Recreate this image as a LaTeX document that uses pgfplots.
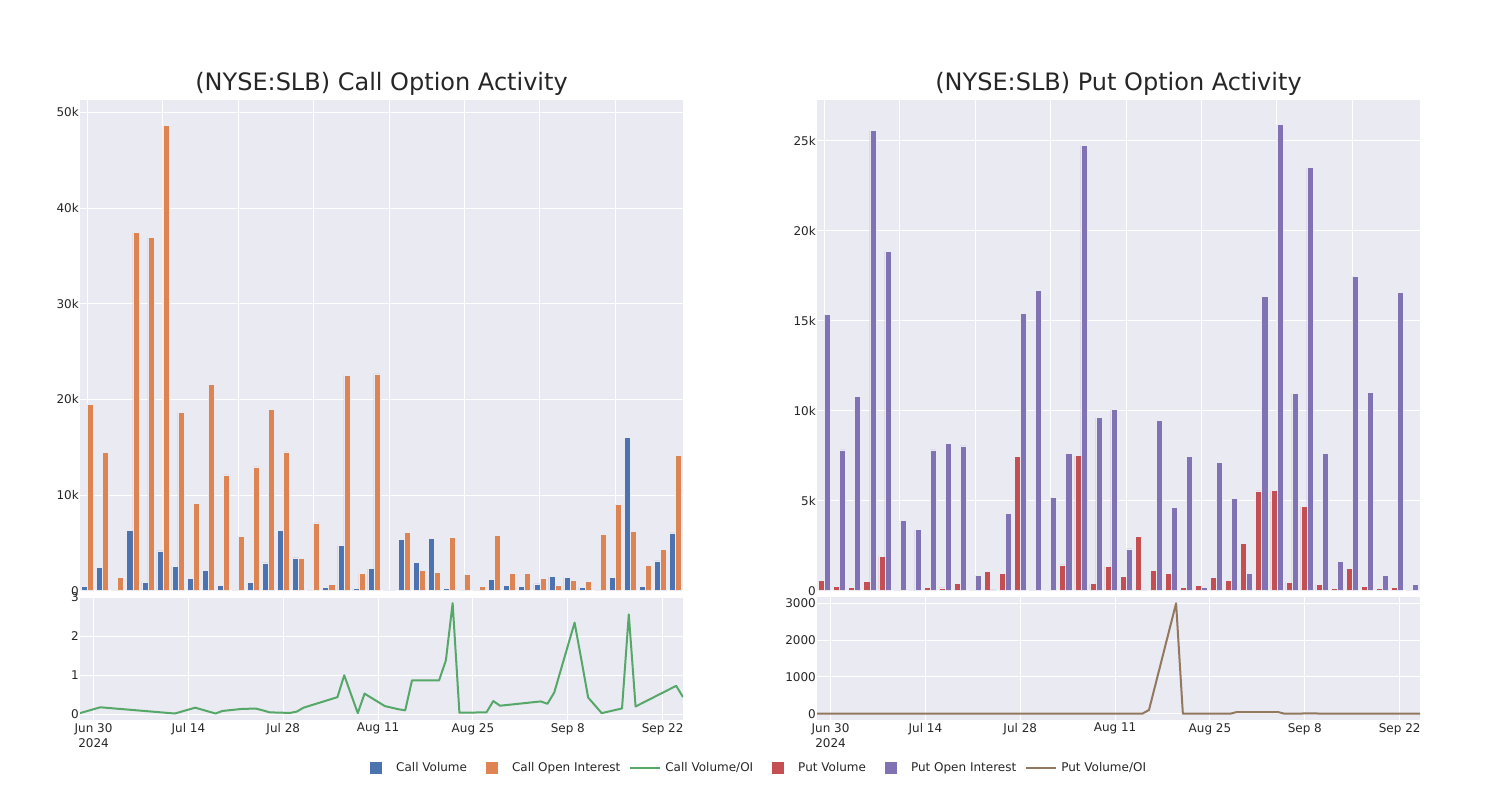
\documentclass[border=0pt]{standalone}
\usepackage{fontspec}
\setmainfont{DejaVu Sans}
\usepackage{pgfplots}
\usepackage{pgfplotstable}
\pgfplotsset{compat=1.18}
\definecolor{bg}{HTML}{EAEAF2}
\definecolor{cvol}{HTML}{4C72B0}
\definecolor{coi}{HTML}{DD8452}
\definecolor{crat}{HTML}{55A868}
\definecolor{pvol}{HTML}{C44E52}
\definecolor{poi}{HTML}{8172B3}
\definecolor{prat}{HTML}{937860}
\definecolor{txt}{HTML}{262626}

\pgfplotstableread{
i d cv coi cr pv poi pr
0 -2 420 19480 0.03 590 15330 0.04
1 1 2470 14430 0.18 260 7820 0.03
2 12 30 1360 0.02 170 10780 0.02
3 15 6300 37460 0.17 500 25560 0.02
4 18 870 36970 0.02 1890 18870 0.1
5 19 4170 48630 0.085 20 3910 0.01
6 22 2540 18680 0.14 70 3390 0.02
7 24 1290 9150 0.145 190 7820 0.02
8 25 2160 21570 0.1 150 8200 0.02
9 26 590 12100 0.05 390 8040 0.05
10 29 140 5700 0.035 30 870 0.03
11 30 900 12940 0.07 1070 40 0.03
12 31 2920 18960 0.17 980 4300 0.2
13 36 6300 14500 0.44 7480 15410 0.5
14 37 3440 3370 1.0 70 16670 0
15 39 100 7100 0.03 90 5190 0.02
16 40 310 630 0.53 1430 7610 0.2
17 43 4700 22540 0.21 7500 24740 0.3
18 45 210 1810 0.13 390 9610 0.04
19 46 2300 22680 0.1 1370 10090 0.1
20 47 45 52 0.87 780 2320 100
21 51 5360 6120 0.87 3000 10 3000
22 52 2960 2120 1.38 1110 9460 0.1
23 53 5460 1880 2.85 960 4630 0.2
24 54 210 5570 0.04 190 7460 0.03
25 58 70 1670 0.05 280 190 1.5
26 59 140 450 0.34 740 7110 0.1
27 60 1220 5810 0.22 590 5110 46
28 66 560 1840 0.33 2630 960 46
29 67 450 1840 0.27 5540 16350 0.3
30 68 700 1290 0.56 5560 25890 0.2
31 71 1460 590 2.35 460 10960 10
32 72 1390 1080 1.4 4670 23500 5
33 73 380 1010 0.43 370 7630 0.05
34 75 170 5880 0.03 110 1630 0.07
35 78 1360 9040 0.15 1240 17480 0.07
36 79 16040 6230 2.56 240 11000 0.02
37 80 490 2610 0.2 110 870 0.13
38 86 3130 4350 0.73 170 16570 0.01
39 87 6050 14160 0.44 90 370 0.2
}\data

\pgfplotsset{
  base/.style={
    scale only axis,
    axis background/.style={fill=bg},
    axis line style={draw=none},
    major tick length=0pt,
    grid=major,
    major grid style={white, line width=1pt},
    ticklabel style={font=\fontsize{12}{15}\selectfont, text=txt},
    /pgf/number format/assume math mode=true,
    yticklabel style={inner sep=1pt},
    scaled y ticks=false,
  },
  datex/.style={
    xmin=-2, xmax=87,
    xtick={0,14,28,42,56,70,84},
    xticklabels={{Jun 30\\2024},{Jul 14},{Jul 28},{Aug 11},{Aug 25},{Sep 8},{Sep 22}},
    xticklabel style={align=center, inner sep=0pt, yshift=-3pt},
  },
  sqleg/.style={legend image code/.code={\path[draw=none,fill=none] (0pt,-6pt) rectangle (40pt,6pt); \fill[#1, draw=none] (14pt,-6pt) rectangle (26pt,6pt);}},
  lnleg/.style={legend image code/.code={\path[draw=none,fill=none] (0pt,-6pt) rectangle (40pt,6pt); \draw[#1, line width=2pt] (5pt,0pt) -- (35pt,0pt);}},
}

\begin{document}
\begin{tikzpicture}[x=1pt,y=1pt]
\path[use as bounding box] (0,0) rectangle (1500,800);

% Top-left: call bars
\begin{axis}[base, at={(80pt,209.3pt)}, anchor=south west, width=603pt, height=490.7pt,
  xmin=-0.5, xmax=39.5, ymin=0, ymax=51300,
  xtick={0,5,...,35}, xticklabels={},
  ytick={0,10000,20000,30000,40000,50000}, yticklabels={0,10k,20k,30k,40k,50k}]
\addplot[ybar, bar width=0.4, bar shift=-0.2, fill=cvol, draw=bg, line width=0.5pt] table[x=i,y=cv]{\data};
\addplot[ybar, bar width=0.4, bar shift=0.2, fill=coi, draw=bg, line width=0.5pt] table[x=i,y=coi]{\data};
\end{axis}

% Top-right: put bars
\begin{axis}[base, at={(817pt,209.3pt)}, anchor=south west, width=603pt, height=490.7pt,
  xmin=-0.5, xmax=39.5, ymin=0, ymax=27260,
  xtick={0,5,...,35}, xticklabels={},
  ytick={0,5000,10000,15000,20000,25000}, yticklabels={0,5k,10k,15k,20k,25k}]
\addplot[ybar, bar width=0.4, bar shift=-0.2, fill=pvol, draw=bg, line width=0.5pt] table[x=i,y=pv]{\data};
\addplot[ybar, bar width=0.4, bar shift=0.2, fill=poi, draw=bg, line width=0.5pt] table[x=i,y=poi]{\data};
\end{axis}

% Bottom-left: call ratio + legend
\begin{axis}[base, datex, at={(80pt,80pt)}, anchor=south west, width=603pt, height=123.3pt,
  ymin=-0.146, ymax=3.015, ytick={0,1,2,3}, yticklabels={0,1,2,3},
  legend columns=6,
  legend style={at={(0.4577,-0.389)}, anchor=west, draw=none, fill=none, inner sep=0pt,
    font=\fontsize{12}{15}\selectfont, text=txt,
    /tikz/every even column/.append style={column sep=5pt},
    nodes={inner sep=0pt}}]
\addlegendimage{sqleg=cvol}
\addlegendimage{sqleg=coi}
\addplot[crat, line width=2pt, line join=round, lnleg=crat] table[x=d,y=cr]{\data};
\addlegendimage{sqleg=pvol}
\addlegendimage{sqleg=poi}
\addlegendimage{lnleg=prat}
\legend{Call Volume, Call Open Interest, Call Volume/OI, Put Volume, Put Open Interest, Put Volume/OI}
\end{axis}

% Bottom-right: put ratio
\begin{axis}[base, datex, at={(817pt,80pt)}, anchor=south west, width=603pt, height=123.3pt,
  ymin=-171, ymax=3180, ytick={0,1000,2000,3000}, yticklabels={0,1000,2000,3000}]
\addplot[prat, line width=2pt, line join=round] table[x=d,y=pr]{\data};
\end{axis}

\node[font=\fontsize{24}{28}\selectfont, text=txt] at (381.5,716) {(NYSE:SLB) Call Option Activity};
\node[font=\fontsize{24}{28}\selectfont, text=txt] at (1118.5,716) {(NYSE:SLB) Put Option Activity};
\end{tikzpicture}
\end{document}
